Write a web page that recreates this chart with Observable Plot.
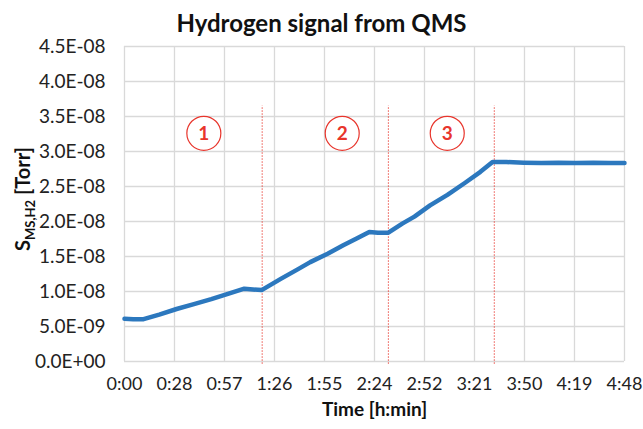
<!DOCTYPE html>
<html>
<head>
<meta charset="utf-8">
<script src="https://cdn.jsdelivr.net/npm/d3@7"></script>
<script src="https://cdn.jsdelivr.net/npm/@observablehq/plot@0.6"></script>
<style>
  html, body { margin: 0; padding: 0; background: #fff; }
  #title { height: 32px; width: 643px; text-align: center; font-family: Lato, sans-serif; font-weight: bold; font-size: 24px; line-height: 46px; color: #111; overflow: visible; }
  #chart svg { overflow: visible; }
</style>
</head>
<body>
<div id="title">Hydrogen signal from QMS</div>
<div id="chart"></div>
<script>
// Elapsed time (minutes) and QMS hydrogen signal (Torr)
const timeMin = [0, 5, 11, 20, 30, 40, 50, 60, 69, 74, 79, 90, 100, 107, 117, 126, 134, 141, 146, 152, 160, 167, 176, 186, 196, 205, 212, 220, 230, 240, 250, 260, 270, 280, 288];
const signalTorr = [6.1e-9, 6.05e-9, 6.05e-9, 6.7e-9, 7.5e-9, 8.2e-9, 8.9e-9, 9.7e-9, 10.4e-9, 10.3e-9, 10.2e-9, 11.8e-9, 13.2e-9, 14.2e-9, 15.4e-9, 16.6e-9, 17.6e-9, 18.5e-9, 18.4e-9, 18.4e-9, 19.7e-9, 20.7e-9, 22.3e-9, 23.8e-9, 25.5e-9, 27.1e-9, 28.5e-9, 28.5e-9, 28.4e-9, 28.35e-9, 28.4e-9, 28.35e-9, 28.4e-9, 28.35e-9, 28.35e-9];

// Axis ticks
const xTickMinutes = [0, 28.8, 57.6, 86.4, 115.2, 144, 172.8, 201.6, 230.4, 259.2, 288];
const xTickLabels = ["0:00", "0:28", "0:57", "1:26", "1:55", "2:24", "2:52", "3:21", "3:50", "4:19", "4:48"];
const yTicks = [0, 5e-9, 1e-8, 1.5e-8, 2e-8, 2.5e-8, 3e-8, 3.5e-8, 4e-8, 4.5e-8];

// Phase boundaries (minutes) and phase markers
const phaseBoundaries = [79.3, 152, 213];
const phaseLabels = ["1", "2", "3"];
const phaseLabelTime = [45.7, 125.4, 185.9];
const phaseLabelSignal = [3.26e-8, 3.26e-8, 3.26e-8];
const boundaryTop = 3.65e-8;
const boundaryBottom = -0.4e-9;

const data = timeMin.map((t, i) => ({t, s: signalTorr[i]}));
const phases = phaseLabels.map((l, i) => ({l, t: phaseLabelTime[i], s: phaseLabelSignal[i]}));
const bounds = phaseBoundaries.map(t => ({t, y1: boundaryBottom, y2: boundaryTop}));

const fmtSci = v => {
  const [m, e] = v.toExponential(1).split("e");
  const sign = e[0] === "-" ? "-" : "+";
  const d = e.replace(/[+-]/, "").padStart(2, "0");
  return `${m}E${sign}${d}`;
};

const red = "#e8352c";
const chart = Plot.plot({
  width: 643,
  height: 397,
  marginLeft: 124,
  marginRight: 19,
  marginTop: 14,
  marginBottom: 68,
  style: {fontFamily: "Lato, sans-serif", fontSize: "18px", background: "white", color: "#222", overflow: "visible"},
  x: {domain: [0, 288]},
  y: {domain: [0, 4.5e-8]},
  marks: [
    Plot.gridX(xTickMinutes, {stroke: "#d9d9d9", strokeOpacity: 1, strokeWidth: 1.3}),
    Plot.gridY(yTicks, {stroke: "#d9d9d9", strokeOpacity: 1, strokeWidth: 1.3}),
    Plot.axisX(xTickMinutes, {tickSize: 0, tickPadding: 16, tickFormat: (d, i) => xTickLabels[i], label: null, fontSize: 18}),
    Plot.axisY(yTicks, {tickSize: 0, tickPadding: 19, tickFormat: fmtSci, label: null, fontSize: 19}),
    Plot.ruleX(bounds, {x: "t", y1: "y1", y2: "y2", stroke: red, strokeWidth: 1, strokeDasharray: "1.5,1.5", strokeOpacity: 0.85}),
    Plot.line(data, {x: "t", y: "s", stroke: "#2c78be", strokeWidth: 4.5, curve: "linear"}),
    Plot.dot(phases, {x: "t", y: "s", r: 17, stroke: red, strokeWidth: 1.2, fill: "white"}),
    Plot.text(phases, {x: "t", y: "s", text: "l", fill: red, fontWeight: "bold", fontSize: 19, dy: 1}),
    Plot.text(["Time [h:min]"], {frameAnchor: "bottom", dy: 54, fontWeight: "bold", fontSize: 19, fill: "#111"})
  ]
});
document.getElementById("chart").appendChild(chart);

// Y axis title with subscript
const svg = d3.select(chart);
const yt = svg.append("text")
  .attr("transform", "translate(30,167) rotate(-90)")
  .attr("text-anchor", "middle")
  .attr("font-family", "Lato, sans-serif")
  .attr("font-weight", "bold")
  .attr("font-size", 20)
  .attr("fill", "#111");
yt.append("tspan").text("S");
yt.append("tspan").attr("font-size", 13).attr("dy", 5).text("MS,H2");
yt.append("tspan").attr("dy", -5).text(" [Torr]");
</script>
</body>
</html>
